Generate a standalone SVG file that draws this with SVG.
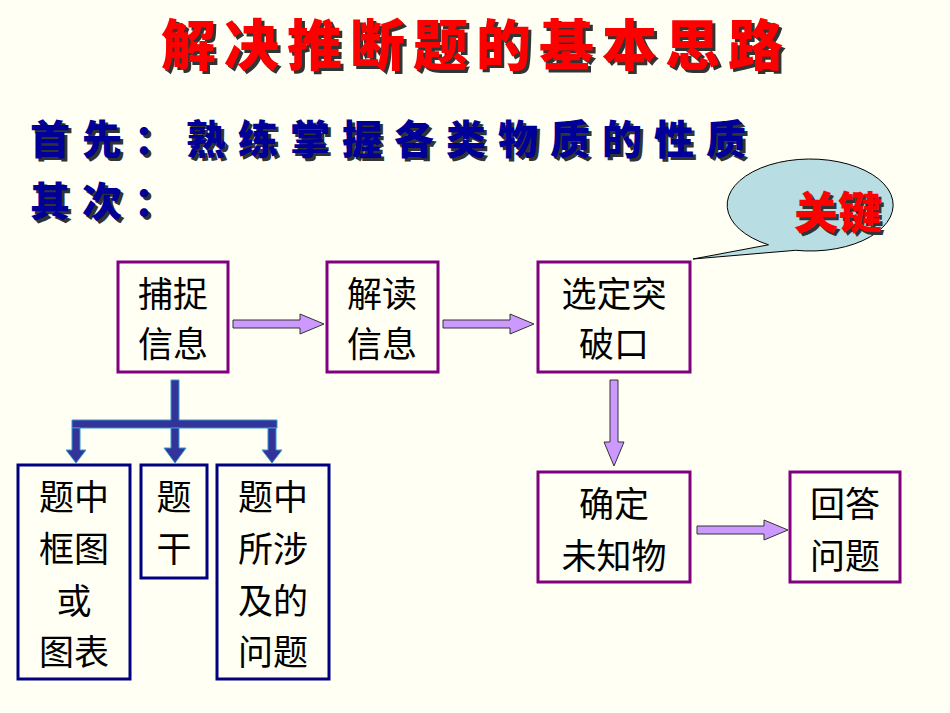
<svg xmlns="http://www.w3.org/2000/svg" width="950" height="713" viewBox="0 0 950 713">
<style>
.t{font-family:"Noto Sans CJK SC",sans-serif;font-size:35px;fill:#000;text-anchor:middle}
.pb{fill:none;stroke:#800080;stroke-width:3}
.bb{fill:none;stroke:#000080;stroke-width:3}
.pa{fill:#CC99FF;stroke:#333;stroke-width:1}
.ba{fill:#333399;stroke:#3399CC;stroke-width:1}
</style>
<rect width="950" height="713" fill="#FFFFF4"/>
<g id="title" font-family="Noto Sans CJK SC,sans-serif" font-weight="900">
<text x="164" y="68" font-size="55" letter-spacing="8" fill="#333">解决推断题的基本思路</text>
<text x="161" y="65" font-size="55" letter-spacing="8" fill="#FF0000">解决推断题的基本思路</text>
<text x="33" y="157" font-size="40" fill="#333" letter-spacing="12">首先：熟练掌握各类物质的性质</text>
<text x="30" y="154" font-size="40" fill="#000099" letter-spacing="12">首先：熟练掌握各类物质的性质</text>
<text x="33" y="219" font-size="40" fill="#333" letter-spacing="12">其次：</text>
<text x="30" y="216" font-size="40" fill="#000099" letter-spacing="12">其次：</text>
</g>
<g id="callout">
<path d="M768.5,244.8 L693,259 L795.6,250.3 A83,46 0 1 0 768.5,244.8 Z" fill="#B8DDE3" stroke="#000" stroke-width="1"/>
<text x="841" y="232" font-family="Noto Sans CJK SC,sans-serif" font-weight="900" font-size="44" text-anchor="middle" fill="#333">关键</text>
<text x="838" y="229" font-family="Noto Sans CJK SC,sans-serif" font-weight="900" font-size="44" text-anchor="middle" fill="#FF0000">关键</text>
</g>
<g id="n1"><rect class="pb" x="118" y="262" width="110" height="110"/><text class="t" x="173" y="307">捕捉</text><text class="t" x="173" y="357">信息</text></g>
<g id="n2"><rect class="pb" x="327" y="262" width="111" height="110"/><text class="t" x="382" y="307">解读</text><text class="t" x="382" y="357">信息</text></g>
<g id="n3"><rect class="pb" x="538" y="262" width="152" height="110"/><text class="t" x="614" y="307">选定突</text><text class="t" x="614" y="357">破口</text></g>
<g id="n4"><rect class="pb" x="538" y="472" width="152" height="110"/><text class="t" x="614" y="517">确定</text><text class="t" x="614" y="569">未知物</text></g>
<g id="n5"><rect class="pb" x="790" y="472" width="110" height="110"/><text class="t" x="845" y="517">回答</text><text class="t" x="845" y="569">问题</text></g>
<g id="b1"><rect class="bb" x="18" y="465" width="112" height="214"/><text class="t" x="74" y="510">题中</text><text class="t" x="74" y="562">框图</text><text class="t" x="74" y="614">或</text><text class="t" x="74" y="665">图表</text></g>
<g id="b2"><rect class="bb" x="141" y="465" width="66" height="113"/><text class="t" x="174" y="510">题</text><text class="t" x="174" y="562">干</text></g>
<g id="b3"><rect class="bb" x="217" y="465" width="112" height="214"/><text class="t" x="273" y="510">题中</text><text class="t" x="273" y="562">所涉</text><text class="t" x="273" y="614">及的</text><text class="t" x="273" y="665">问题</text></g>
<g id="connectors">
<path class="pa" d="M233,320 H300 V314 L324,324 L300,334 V328 H233 Z"/>
<path class="pa" d="M443,320 H510 V314 L534,324 L510,334 V328 H443 Z"/>
<path class="pa" d="M610,380 V442 H604 L614,466 L624,442 H618 V380 Z"/>
<path class="pa" d="M697,526 H764 V520 L788,530 L764,540 V534 H697 Z"/>
<path class="ba" d="M171,380 H179 V420 H277 V428 H72 V420 H171 Z"/>
<path class="ba" d="M72,428 V450 H66 L76,463 L86,450 H80 V428 Z"/>
<path class="ba" d="M171,428 V448 H164 L175,463 L186,448 H179 V428 Z"/>
<path class="ba" d="M268,428 V450 H262 L272,463 L282,450 H276 V428 Z"/>
</g>
</svg>
